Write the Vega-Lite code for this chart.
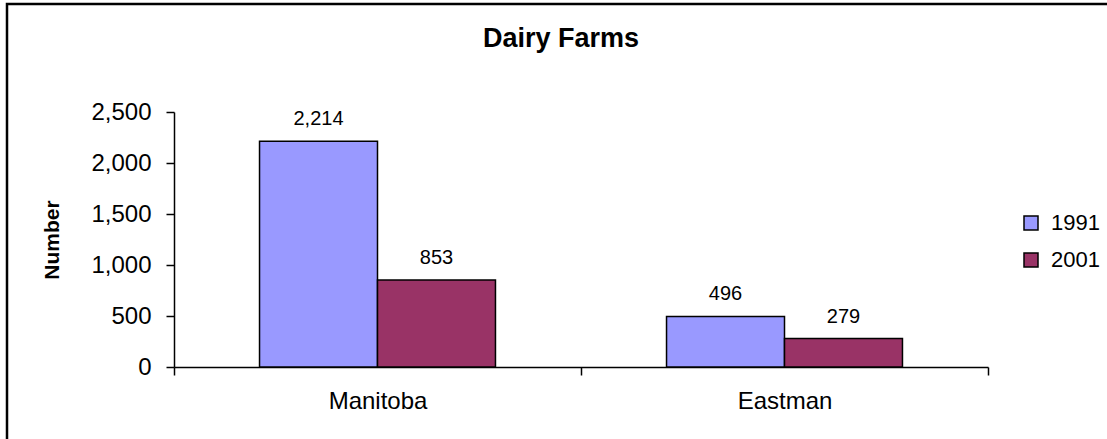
{
  "$schema": "https://vega.github.io/schema/vega-lite/v6.json",
  "width": 1100,
  "height": 435,
  "autosize": {"type": "none"},
  "padding": {"left": 7, "top": 4, "right": 0, "bottom": 0},
  "background": "white",
  "config": {
    "view": {"stroke": "black", "strokeWidth": 2.5, "strokeDash": [1100, 1535, 435, 10]},
    "font": "Liberation Sans",
    "text": {"font": "Liberation Sans"}
  },
  "title": {
    "text": "Dairy Farms",
    "fontSize": 27,
    "fontWeight": "bold",
    "color": "black",
    "anchor": "middle",
    "frame": "group",
    "dx": 4,
    "dy": 27,
    "baseline": "alphabetic",
    "offset": -43
  },
  "data": {
    "values": [
      {"region": "Manitoba", "year": "1991", "farms": 2214},
      {"region": "Manitoba", "year": "2001", "farms": 853},
      {"region": "Eastman", "year": "1991", "farms": 496},
      {"region": "Eastman", "year": "2001", "farms": 279}
    ]
  },
  "encoding": {
    "x": {
      "field": "region",
      "type": "nominal",
      "sort": ["Manitoba", "Eastman"],
      "scale": {"paddingInner": 0, "paddingOuter": 0, "range": [167, 981]},
      "axis": {
        "title": null,
        "offset": -72,
        "labelAngle": 0,
        "labelFontSize": 24,
        "labelColor": "black",
        "labelPadding": 14,
        "tickBand": "extent",
        "tickSize": 8,
        "tickColor": "black",
        "tickWidth": 1.5,
        "domainColor": "black",
        "domainWidth": 1.5
      }
    },
    "xOffset": {
      "field": "year",
      "type": "nominal",
      "scale": {"paddingInner": 0, "paddingOuter": 0.725}
    },
    "y": {
      "field": "farms",
      "type": "quantitative",
      "scale": {"domain": [0, 2500], "nice": false, "range": [363, 108]},
      "axis": {
        "title": "Number",
        "offset": -167,
        "titleFontSize": 21,
        "titleFontWeight": "bold",
        "titleColor": "black",
        "titleX": -122,
        "titleY": 235.5,
        "titleAngle": 270,
        "titleAlign": "center",
        "titleBaseline": "middle",
        "values": [0, 500, 1000, 1500, 2000, 2500],
        "format": ",.0f",
        "grid": false,
        "labelFontSize": 24,
        "labelColor": "black",
        "labelPadding": 15,
        "tickSize": 8,
        "tickColor": "black",
        "tickWidth": 1.5,
        "domainColor": "black",
        "domainWidth": 1.5
      }
    }
  },
  "layer": [
    {
      "mark": {"type": "bar", "stroke": "black", "strokeWidth": 1.5},
      "encoding": {
        "color": {
          "field": "year",
          "type": "nominal",
          "scale": {"domain": ["1991", "2001"], "range": ["#9999FF", "#993366"]},
          "legend": {
            "title": null,
            "orient": "none",
            "legendX": 1013,
            "legendY": 208,
            "symbolType": "square",
            "symbolSize": 196,
            "symbolStrokeColor": "black",
            "symbolStrokeWidth": 1.5,
            "labelFontSize": 22,
            "labelColor": "black",
            "labelOffset": 9,
            "rowPadding": 15
          }
        }
      }
    },
    {
      "mark": {"type": "text", "baseline": "alphabetic", "dy": -16, "fontSize": 20, "color": "black"},
      "encoding": {
        "text": {"field": "farms", "type": "quantitative", "format": ",.0f"}
      }
    }
  ]
}
